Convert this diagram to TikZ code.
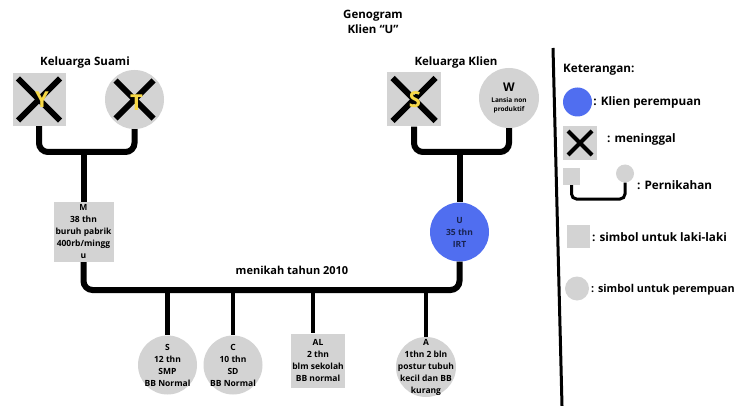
\documentclass[tikz,border=0pt]{standalone}
\usepackage{fontspec}
\setmainfont{Open Sans}
\usetikzlibrary{positioning}
\definecolor{symgray}{RGB}{211,211,211}
\definecolor{klienblue}{RGB}{80,110,240}
\definecolor{namegold}{RGB}{246,216,70}
\definecolor{navytext}{RGB}{25,35,80}
\tikzset{
  male/.style={rectangle,fill=symgray,minimum width=#1,minimum height=#1,inner sep=0pt},
  female/.style={circle,fill=symgray,minimum size=#1,inner sep=0pt},
  klien/.style={circle,fill=klienblue,minimum size=#1,inner sep=0pt},
  crossline/.style={line width=6pt},
  dead/.style={path picture={
    \draw[crossline] ([shift={(#1pt,-#1pt)}]path picture bounding box.north west) -- ([shift={(-#1pt,#1pt)}]path picture bounding box.south east);
    \draw[crossline] ([shift={(-#1pt,-#1pt)}]path picture bounding box.north east) -- ([shift={(#1pt,#1pt)}]path picture bounding box.south west);}},
  letter/.style={text=namegold,font=\bfseries\fontsize{22}{22}\selectfont,inner sep=0pt},
  persontext/.style={align=center,font=\bfseries\fontsize{8.5}{12}\selectfont,inner sep=0pt},
  heading/.style={font=\bfseries\fontsize{11.5}{15}\selectfont,align=center,inner sep=0pt},
  legendtext/.style={font=\bfseries\fontsize{11.7}{13}\selectfont,anchor=west,inner sep=0pt},
  marriage/.style={line width=6pt,rounded corners=9pt},
  child/.style={line width=4.5pt},
  legendline/.style={line width=3pt,rounded corners=5pt},
}
\begin{document}
\begin{tikzpicture}[x=1pt,y=-1pt]
\useasboundingbox (0,0) rectangle (738,406);
% judul
\node[heading] (judul) at (373,22) {Genogram\\Klien “U”};
\node[heading] (hsuami) at (85,63) {Keluarga Suami};
\node[heading] (hklien) at (456,63) {Keluarga Klien};
% keluarga suami
\node[male=53,dead=5.5,label={[letter,xshift=3pt]center:Y}] (Y) at (39,99.5) {};
\node[female=59,dead=10.5,label={[letter,xshift=2pt,yshift=-3pt]center:T}] (T) at (134.5,99.5) {};
% keluarga klien
\node[male=54,dead=5.5,label={[letter,xshift=1pt]center:S}] (Sk) at (414,99.5) {};
\node[female=60,label={[persontext,font=\bfseries\fontsize{6.5}{9.5}\selectfont]center:{\fontsize{12}{12}\selectfont W}\\[1pt]Lansia non\\produktif}] (W) at (509,98) {};
% pasangan
\node[male=60,label={[persontext]center:M\\38 thn\\buruh pabrik\\400rb/mingg\\u}] (M) at (83.5,232) {};
\node[klien=59,label={[persontext,text=navytext]center:U\\35 thn\\IRT}] (U) at (459.5,232) {};
% anak
\node[female=59,label={[persontext]center:S\\12 thn\\SMP\\BB Normal}] (S) at (167.5,365) {};
\node[female=59,label={[persontext]center:C\\10 thn\\SD\\BB Normal}] (C) at (233,365) {};
\node[male=54,label={[persontext]center:AL\\2 thn\\blm sekolah\\BB normal}] (AL) at (318,360.5) {};
\node[female=60,label={[persontext]center:A\\1thn 2 bln\\postur tubuh\\kecil dan BB\\kurang}] (A) at (426,367) {};
% garis pernikahan
\coordinate (barsuami) at (83.5,152);
\coordinate (barklien) at (459.5,152);
\coordinate (barnikah) at (270,290);
\draw[marriage] (Y.south) |- (barsuami) -| (T.south);
\draw[marriage] (barsuami) -- (M.north);
\draw[marriage] (Sk.south) |- (barklien) -| (W.south);
\draw[marriage] (barklien) -- (U.north);
\draw[marriage] (M.south) |- (barnikah) -| (U.south);
\node[font=\bfseries\fontsize{11}{13}\selectfont,inner sep=0pt] (nikah) at (292,270) {menikah tahun 2010};
% garis anak
\draw[child] (S.north |- barnikah) -- (S.north);
\draw[child] (C.north |- barnikah) -- (C.north);
\draw[child] ([xshift=-5pt]AL.north |- barnikah) -- ([xshift=-5pt]AL.north);
\draw[child] (A.north |- barnikah) -- (A.north);
% pembatas
\coordinate (garisatas) at (553,48);
\coordinate (garisbawah) at (562,406);
\draw[line width=3pt] (garisatas) -- (garisbawah);
% keterangan
\node[legendtext] (ket) at (563,70) {Keterangan:};
\node[klien=29] (lgklien) at (577.5,102) {};
\node[legendtext,right=1pt of lgklien] (lgklientxt) {: Klien perempuan};
\node[male=34,dead=5,crossline/.style={line width=4pt}] (lgdead) at (580,143) {};
\node[legendtext] (lgdeadtxt) at (607,139) {: meninggal};
\node[male=17] (lgm) at (571.5,176.5) {};
\node[female=18] (lgf) at (625,173.5) {};
\coordinate (lgbar) at (598,199);
\draw[legendline] (lgm.south) |- (lgbar) -| (lgf.south);
\node[legendtext] (lgnikah) at (637,185) {: Pernikahan};
\node[male=23] (lgmale) at (578.5,236) {};
\node[legendtext] (lgmaletxt) at (592,237) {: simbol untuk laki-laki};
\node[female=24] (lgfemale) at (577,288.5) {};
\node[legendtext,font=\bfseries\fontsize{10.8}{13}\selectfont] (lgfemaletxt) at (591,290) {: simbol untuk perempuan};
\end{tikzpicture}
\end{document}
